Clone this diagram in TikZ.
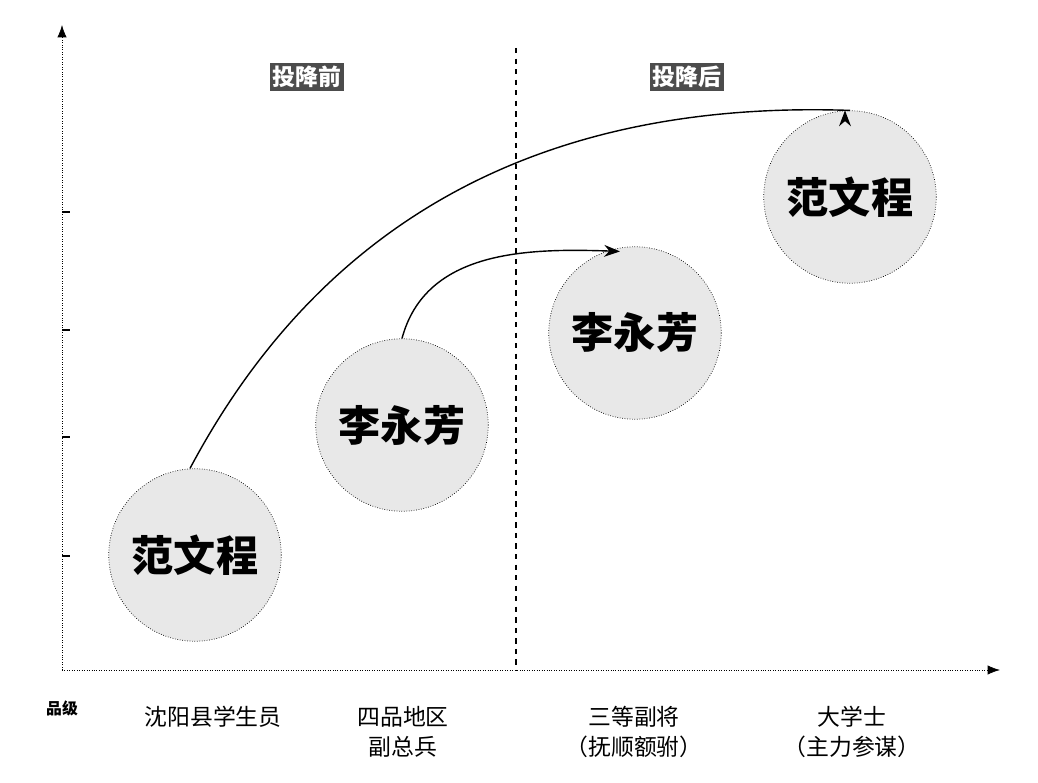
\documentclass[tikz,border=0pt]{standalone}
\usepackage{fontspec}
\newfontfamily\cjk{Noto Sans CJK SC}
\usetikzlibrary{arrows.meta,positioning}
\tikzset{
  rankbubble/.style={circle, draw, densely dotted, fill=gray!18, minimum size=3.45cm, font=\cjk\bfseries\fontsize{24}{28}\selectfont},
  phase/.style={fill=black!70, text=white, inner sep=1.5pt, font=\cjk\bfseries\fontsize{13}{15}\selectfont},
  rank/.style={align=center, font=\cjk\fontsize{13}{17}\selectfont},
}
\begin{document}
\begin{tikzpicture}[x=0.02cm, y=-0.02cm]
    \useasboundingbox (0,0) rectangle (1038,783);
    % axes
    \coordinate (o) at (62,670);
    \coordinate (ytop) at (62,25);
    \coordinate (xend) at (1000,670);
    \draw[densely dotted, -{Latex[length=7pt]}] (o) -- (ytop);
    \draw[densely dotted, -{Latex[length=7pt]}] (o) -- (xend);
    \foreach \y in {212,330,437,556} {
        \draw[thick] (62,\y) -- (70,\y);
    }
    \draw[dashed, thick] (516,48) -- (516,670);

    % phases
    \node[phase] (before) at (307,77) {投降前};
    \node[phase] (after) at (687,77) {投降后};

    % bubbles
    \node[rankbubble] (fan1) at (195,555) {范文程};
    \node[rankbubble] (li1) at (402,425) {李永芳};
    \node[rankbubble] (li2) at (635,333) {李永芳};
    \node[rankbubble] (fan2) at (850,197) {范文程};

    % moves
    \draw[thick, -{Stealth[length=9pt]}] (fan1.north) ++(-5,0) to[out=62, in=178] (fan2.north) ++(-5,0);
    \draw[thick, -{Stealth[length=9pt]}] (li1.north) to[out=75, in=178] ([xshift=-15*0.02cm, yshift=-5*0.02cm]li2.north);

    % ranks
    \node[font=\cjk\bfseries\fontsize{9}{11}\selectfont] (unit) at (62,708) {品级};
    \node[rank, anchor=north] (r1) at (213,700) {沈阳县学生员};
    \node[rank, anchor=north] (r2) at (403,700) {四品地区\\副总兵};
    \node[rank, anchor=north] (r3) at (634,700) {三等副将\\（抚顺额驸）};
    \node[rank, anchor=north] (r4) at (852,700) {大学士\\（主力参谋）};
\end{tikzpicture}
\end{document}
